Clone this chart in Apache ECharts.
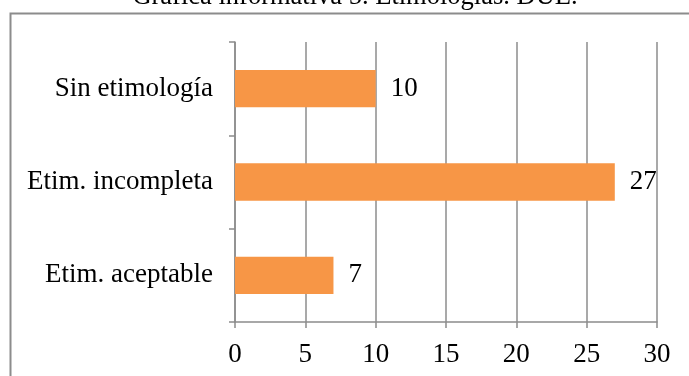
<!DOCTYPE html>
<html>
<head>
<meta charset="utf-8">
<script src="https://cdn.jsdelivr.net/npm/echarts@6/dist/echarts.min.js"></script>
<style>
  html, body { margin: 0; padding: 0; background: #ffffff; }
  #chart { width: 689px; height: 376px; }
</style>
</head>
<body>
<div id="chart"></div>
<script>
// Etymology classification counts (DUE)
const titleText = 'Gráfica informativa 5. Etimologías. DUE.';
const categories = ['Etim. aceptable', 'Etim. incompleta', 'Sin etimología'];
const counts = [7, 27, 10];
const axisMin = 0;
const axisMax = 30;
const axisStep = 5;

const FONT = '"Liberation Serif", "Times New Roman", serif';
const GREY = '#8c8c8c';

const chart = echarts.init(document.getElementById('chart'), null, { renderer: 'canvas' });
chart.setOption({
  backgroundColor: '#ffffff',
  animation: false,
  graphic: [
    {
      type: 'rect',
      shape: { x: 10.5, y: 13.5, width: 700, height: 400 },
      style: { fill: 'none', stroke: GREY, lineWidth: 2 },
      z: 0
    },
    {
      type: 'text',
      x: 355,
      y: -16,
      style: {
        text: titleText,
        font: '26.5px ' + FONT,
        fill: '#000000',
        textAlign: 'center',
        textVerticalAlign: 'top'
      }
    }
  ],
  grid: { left: 235, right: 32, top: 42, bottom: 54, containLabel: false },
  xAxis: {
    type: 'value',
    min: axisMin,
    max: axisMax,
    interval: axisStep,
    axisLine: { show: true, lineStyle: { color: GREY, width: 1.5 } },
    axisTick: { show: true, length: 6, inside: false, lineStyle: { color: GREY, width: 1.5 } },
    splitLine: { show: true, lineStyle: { color: GREY, width: 1.5 } },
    axisLabel: { color: '#000000', fontFamily: FONT, fontSize: 27, margin: 19 }
  },
  yAxis: {
    type: 'category',
    data: categories,
    axisLine: { show: true, lineStyle: { color: GREY, width: 1.5 } },
    axisTick: { show: true, length: 6, inside: false, alignWithLabel: false, lineStyle: { color: GREY, width: 1.5 } },
    axisLabel: { color: '#000000', fontFamily: FONT, fontSize: 27, margin: 22 }
  },
  series: [{
    type: 'bar',
    data: counts,
    barCategoryGap: '60%',
    itemStyle: { color: '#F79646' },
    label: {
      show: true,
      position: 'right',
      distance: 15,
      color: '#000000',
      fontFamily: FONT,
      fontSize: 27
    }
  }]
});
</script>
</body>
</html>
